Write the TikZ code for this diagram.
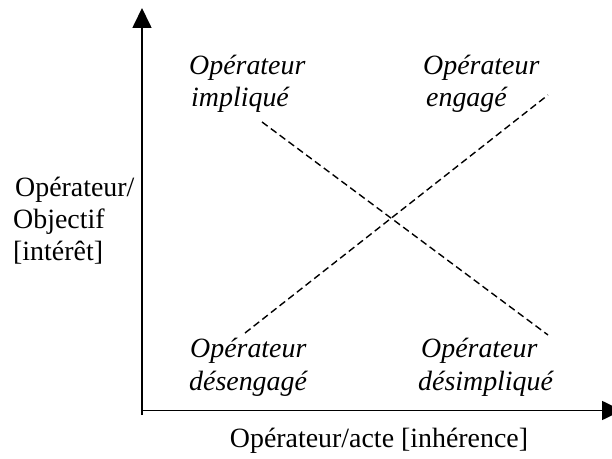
\documentclass[tikz,border=0pt]{standalone}
\usepackage{fontspec}
\setmainfont{Liberation Serif}
\usetikzlibrary{arrows.meta}
\begin{document}
\begin{tikzpicture}[x=1bp,y=-1bp,
  lbl/.style={inner sep=0pt,anchor=base west,font=\fontsize{28}{32}\selectfont},
  ilbl/.style={lbl,font=\fontsize{28}{32}\selectfont\itshape},
  axis/.style={line width=1.7bp,-{Triangle[length=20bp,width=19bp]}},
  diag/.style={line width=1.4bp,dash pattern=on 7bp off 4bp}]
\useasboundingbox (0,0) rectangle (612,459);
% axes
\coordinate (o) at (142,410.5);
\coordinate (ob) at (142,415);
\coordinate (ytip) at (142,8);
\coordinate (xtip) at (622,410.5);
\draw[axis] (ob) -- (ytip);
\draw[axis] (o) -- (xtip);
% dashed lines
\coordinate (a1) at (262,122);
\coordinate (a2) at (548,335);
\coordinate (b1) at (245,333);
\coordinate (b2) at (548,95);
\draw[diag] (a1) -- (a2);
\draw[diag] (b1) -- (b2);
% quadrant labels
\node[ilbl] (tl1) at (189,75) {Opérateur};
\node[ilbl] (tl2) at (191,107) {impliqué};
\node[ilbl] (tr1) at (423,75) {Opérateur};
\node[ilbl] (tr2) at (426,107) {engagé};
\node[ilbl] (bl1) at (190,357) {Opérateur};
\node[ilbl] (bl2) at (189,390) {désengagé};
\node[ilbl] (br1) at (421,357) {Opérateur};
\node[ilbl] (br2) at (418,390) {désimpliqué};
% axis labels
\node[lbl] (y1) at (15,197) {Opérateur/};
\node[lbl] (y2) at (13,229) {Objectif};
\node[lbl] (y3) at (13,261) {[intérêt]};
\node[lbl,anchor=base] (xl) at (379,447) {Opérateur/acte [inhérence]};
\end{tikzpicture}
\end{document}
